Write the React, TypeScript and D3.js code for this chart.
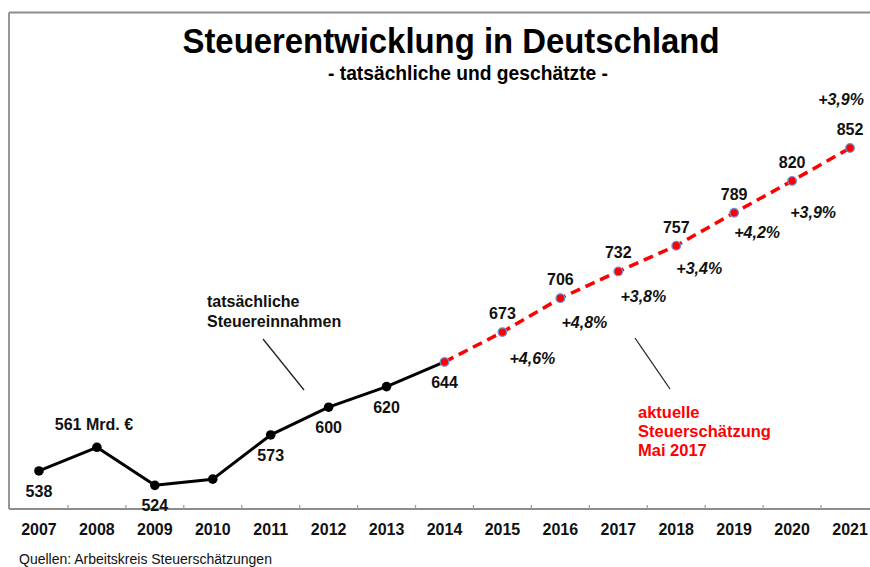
import React from "react";
import * as d3 from "d3";

const years = ["2007","2008","2009","2010","2011","2012","2013","2014","2015","2016","2017","2018","2019","2020","2021"];
const actualValues = [538, 561, 524, 530, 573, 600, 620, 644];
const forecastValues = [644, 673, 706, 732, 757, 789, 820, 852];
const forecastYears = ["2014","2015","2016","2017","2018","2019","2020","2021"];
const growthLabels = ["+4,6%", "+4,8%", "+3,8%", "+3,4%", "+4,2%", "+3,9%", "+3,9%"];
const growthYears = ["2015","2016","2017","2018","2019","2020","2021"];

// label placement offsets (layout, relative to the point)
const growthOffsets: [number, number][] = [[30, 32], [24, 30], [25, 31], [23, 28], [23, 25], [21, 37], [-9, -43]];

const W = 870, H = 567;
const FONT = "'Liberation Sans', Arial, sans-serif";

export default function App() {
  const x = d3.scaleBand<string>().domain(years).range([10, 879]).padding(0);
  const cx = (yr: string) => (x(yr) as number) + x.bandwidth() / 2;
  const y = d3.scaleLinear().domain([501, 852]).range([509, 148]);

  const actual = years.slice(0, actualValues.length).map((yr, i) => ({ yr, v: actualValues[i] }));
  const forecast = forecastYears.map((yr, i) => ({ yr, v: forecastValues[i] }));

  const line = d3.line<{ yr: string; v: number }>().x(d => cx(d.yr)).y(d => y(d.v));

  const tickXs = years.slice(1).map(yr => x(yr) as number);

  return (
    <svg width={W} height={H} style={{ position: "absolute", left: 0, top: 0, background: "#fff" }} fontFamily={FONT}>
      <rect x={0} y={0} width={W} height={H} fill="#fff" />
      {/* frame */}
      <line x1={9} y1={12.5} x2={W} y2={12.5} stroke="#8c8c8c" strokeWidth={1.8} />
      <line x1={9} y1={12.5} x2={9} y2={509} stroke="#8c8c8c" strokeWidth={1.8} />
      {/* axis */}
      <line x1={9} y1={509} x2={W} y2={509} stroke="#8c8c8c" strokeWidth={1.8} />
      {tickXs.map((tx, i) => (
        <line key={i} x1={tx} x2={tx} y1={505} y2={509} stroke="#9a9a9a" strokeWidth={1.2} />
      ))}
      {years.map(yr => (
        <text key={yr} x={cx(yr)} y={535} textAnchor="middle" fontWeight="bold" fontSize={16} fill="#111">{yr}</text>
      ))}

      {/* title */}
      <text x={451} y={53} textAnchor="middle" fontWeight="bold" fontSize={35} textLength={537} lengthAdjust="spacingAndGlyphs" fill="#000">Steuerentwicklung in Deutschland</text>
      <text x={468} y={80} textAnchor="middle" fontWeight="bold" fontSize={21} textLength={280} lengthAdjust="spacingAndGlyphs" fill="#000">- tatsächliche und geschätzte -</text>

      {/* lines */}
      <path d={line(forecast) || ""} fill="none" stroke="#ff0000" strokeWidth={3.5} strokeDasharray="10,6" />
      <path d={line(actual) || ""} fill="none" stroke="#000" strokeWidth={3} strokeLinejoin="round" />

      {/* points */}
      {actual.slice(0, actual.length - 1).map(d => (
        <circle key={d.yr} cx={cx(d.yr)} cy={y(d.v)} r={4.8} fill="#000" />
      ))}
      {forecast.map(d => (
        <circle key={d.yr} cx={cx(d.yr)} cy={y(d.v)} r={4.3} fill="#ff0000" stroke="#6f90d6" strokeWidth={1.3} />
      ))}

      {/* value labels */}
      {actual.map((d, i) => {
        if (i === 3) return null;
        const above = i === 1;
        const label = i === 1 ? `${d.v} Mrd. €` : `${d.v}`;
        return (
          <text key={d.yr} x={cx(d.yr) + (above ? -3 : 0)} y={y(d.v) + (above ? -17 : 26)} textAnchor="middle" fontWeight="bold" fontSize={16} fill="#111">{label}</text>
        );
      })}
      {forecast.slice(1).map(d => (
        <text key={d.yr} x={cx(d.yr)} y={y(d.v) - 13} textAnchor="middle" fontWeight="bold" fontSize={16} fill="#111">{d.v}</text>
      ))}

      {/* growth labels */}
      {growthYears.map((yr, i) => {
        const v = forecastValues[i + 1];
        const [dx, dy] = growthOffsets[i];
        return (
          <text key={yr} x={cx(yr) + dx} y={y(v) + dy} textAnchor="middle" fontWeight="bold" fontStyle="italic" fontSize={16} fill="#111">{growthLabels[i]}</text>
        );
      })}

      {/* annotations */}
      <text x={207} y={307} fontWeight="bold" fontSize={16} fill="#111">tatsächliche</text>
      <text x={207} y={327} fontWeight="bold" fontSize={16} fill="#111">Steuereinnahmen</text>
      <line x1={263} y1={339} x2={304} y2={390} stroke="#222" strokeWidth={1.3} />

      <line x1={635} y1={338} x2={670} y2={389} stroke="#222" strokeWidth={1.3} />
      <text x={638} y={418} fontWeight="bold" fontSize={16.5} fill="#ff0000">aktuelle</text>
      <text x={638} y={437} fontWeight="bold" fontSize={16.5} fill="#ff0000">Steuerschätzung</text>
      <text x={638} y={456} fontWeight="bold" fontSize={16.5} fill="#ff0000">Mai 2017</text>

      <text x={19} y={564} fontSize={14} fill="#111">Quellen: Arbeitskreis Steuerschätzungen</text>
    </svg>
  );
}
